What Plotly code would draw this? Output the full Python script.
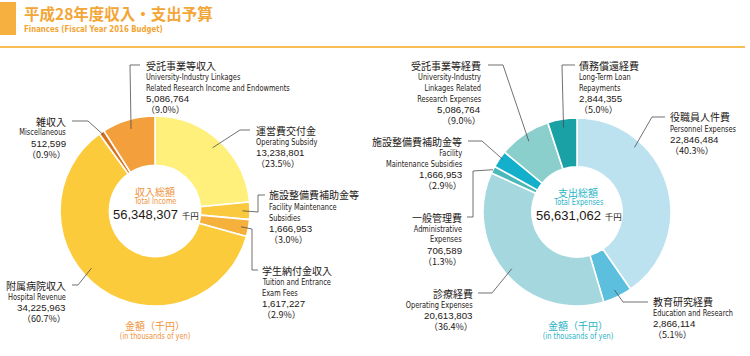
import math
import plotly.graph_objects as go

W, H = 750, 356

# ---------------- data ----------------
inc_jp = ["運営費交付金", "施設整備費補助金等", "学生納付金収入", "附属病院収入", "雑収入", "受託事業等収入"]
inc_en = [["Operating Subsidy"], ["Facility Maintenance", "Subsidies"], ["Tuition and Entrance", "Exam Fees"],
          ["Hospital Revenue"], ["Miscellaneous"], ["University-Industry Linkages", "Related Research Income and Endowments"]]
inc_val = [13238801, 1666953, 1617227, 34225963, 512599, 5086764]
inc_pct = ["23.5", "3.0", "2.9", "60.7", "0.9", "9.0"]
inc_col = ["#FFF07C", "#FBC93D", "#F6B03C", "#FBCB3C", "#D9711C", "#F3A03C"]

exp_jp = ["役職員人件費", "教育研究経費", "診療経費", "一般管理費", "施設整備費補助金等", "受託事業等経費", "債務償還経費"]
exp_en = [["Personnel Expenses"], ["Education and Research"], ["Operating Expenses"], ["Administrative", "Expenses"],
          ["Facility", "Maintenance Subsidies"], ["University-Industry", "Linkages Related", "Research Expenses"],
          ["Long-Term Loan", "Repayments"]]
exp_val = [22846484, 2866114, 20613803, 706589, 1666953, 5086764, 2844355]
exp_pct = ["40.3", "5.1", "36.4", "1.3", "2.9", "9.0", "5.0"]
exp_col = ["#BDE2EF", "#5BBFDD", "#A4D7DE", "#4BB8B9", "#14AFCB", "#8BCFCC", "#1AA1A6"]

title_jp = "平成28年度収入・支出予算"
title_en = "Finances (Fiscal Year 2016 Budget)"

# ---------------- layout helpers ----------------
def px(x):
    return x / W

def py(y):
    return 1 - y / H

JP = "Noto Sans CJK JP"
EN = "DejaVu Sans Condensed, Roboto, sans-serif"   # horizontally condensed further in post_script
NUM = "Liberation Sans, Arial, sans-serif"
TXT = "#231815"
ORANGE = "#F0923A"
TEAL = "#2AB3C6"

# donut geometry (pixels)
L_C, L_R = (155, 211), 95
R_C, R_R = (577, 212), 94

fig = go.Figure()

def add_pie(values, colors, labels, center, R):
    cx, cy = center
    fig.add_trace(go.Pie(
        values=values, labels=labels, sort=False, direction="clockwise", rotation=0,
        hole=0.48, textinfo="none", hoverinfo="label+value+percent",
        marker=dict(colors=colors, line=dict(color="white", width=1.6)),
        domain=dict(x=[px(cx - R), px(cx + R)], y=[py(cy + R), py(cy - R)]),
        showlegend=False,
    ))

add_pie(inc_val, inc_col, inc_jp, L_C, L_R)
add_pie(exp_val, exp_col, exp_jp, R_C, R_R)

annotations = []
shapes = []

def ann(x, y, text, fam, size, color, xa):
    annotations.append(dict(x=px(x), y=py(y), xref="paper", yref="paper", text=text,
                            showarrow=False, xanchor=xa, yanchor="middle", align=xa, borderpad=0,
                            font=dict(family=fam, size=size, color=color)))

def slice_point(values, idx, t, rf, center, R):
    tot = float(sum(values))
    start = sum(values[:idx]) / tot
    frac = start + t * values[idx] / tot
    ang = frac * 2 * math.pi
    cx, cy = center
    return cx + rf * R * math.sin(ang), cy - rf * R * math.cos(ang)

def add_label(jp, en_lines, val, pct, x, y0, align, elbows, anchor):
    y = y0
    ann(x, y, jp, JP, 10, TXT, align)
    y += 11.5
    for e in en_lines:
        ann(x, y, e, EN, 9, TXT, align)
        y += 11
    ann(x, y, f"{val:,}", NUM, 9.7, TXT, align)
    y += 11
    ann(x, y, f"（{pct}%）", JP, 9, TXT, align)
    pts = list(elbows) + [anchor]
    path = "M " + " L ".join(f"{px(a):.5f},{py(b):.5f}" for a, b in pts)
    shapes.append(dict(type="path", path=path, xref="paper", yref="paper",
                       line=dict(color="#4d4d4d", width=0.8)))

# income label layout: (x, y0, align, elbows, t, rf)
inc_lay = [
    (255, 130, "left", [(250, 130), (240, 130)], 0.5, 0.9),
    (268, 195, "left", [(265, 195), (258, 195), (258, 212)], 0.5, 0.92),
    (261, 270, "left", [(258, 270), (252, 270), (252, 229)], 0.5, 0.92),
    (67, 285, "right", [(72, 285), (78, 285)], 0.56, 0.9),
    (67, 121, "right", [(72, 121), (88, 121)], 0.5, 0.97),
    (145, 65, "left", [(140, 65), (130, 65)], 0.5, 0.9),
]
for i, (x, y0, al, el, t, rf) in enumerate(inc_lay):
    add_label(inc_jp[i], inc_en[i], inc_val[i], inc_pct[i], x, y0, al, el,
              slice_point(inc_val, i, t, rf, L_C, L_R))

exp_lay = [
    (669, 117, "left", [(665, 117), (652, 117)], 0.287, 0.92),
    (652, 301, "left", [(648, 302), (623, 302)], 0.5, 0.92),
    (474, 293, "right", [(478, 293), (492, 293)], 0.5, 0.92),
    (463, 217, "right", [(467, 217), (473, 217), (473, 171)], 0.5, 1.0),
    (463, 141, "right", [(468, 141), (482, 141)], 0.6, 0.97),
    (482, 65, "right", [(488, 65), (503, 65)], 0.5, 0.91),
    (578, 65, "left", [(575, 65), (562, 65)], 0.5, 0.91),
]
for i, (x, y0, al, el, t, rf) in enumerate(exp_lay):
    add_label(exp_jp[i], exp_en[i], exp_val[i], exp_pct[i], x, y0, al, el,
              slice_point(exp_val, i, t, rf, R_C, R_R))

def center_text(cx, cy, jp, en, total, color):
    ann(cx, cy - 20, jp, JP, 10, color, "center")
    ann(cx, cy - 10, en, EN, 9, color, "center")
    ann(cx + 1, cy + 3, f"{total:,} <span style='font-family:{JP};font-size:8.5px'>千円</span>",
        NUM, 13, TXT, "center")
    ann(cx, 325, "金額（千円）", JP, 10, color, "center")
    ann(cx, 336, "(in thousands of yen)", EN, 9, color, "center")

center_text(L_C[0], L_C[1], "収入総額", "Total Income", sum(inc_val), ORANGE)
center_text(R_C[0] + 1, R_C[1], "支出総額", "Total Expenses", sum(exp_val), TEAL)

# header
shapes.append(dict(type="rect", xref="paper", yref="paper", x0=px(0), x1=px(16), y0=py(35), y1=py(2),
                   fillcolor="#F5B03F", line=dict(width=0)))
shapes.append(dict(type="line", xref="paper", yref="paper", x0=px(0), x1=px(745), y0=py(47), y1=py(47),
                   line=dict(color="#F6BE55", width=2)))
ann(23, 13.5, f"<b>{title_jp}</b>", JP, 15.5, "#F3A535", "left")
ann(23, 28.5, f"<b>{title_en}</b>", EN, 9.5, "#F3A535", "left")

fig.update_layout(width=W, height=H, margin=dict(l=0, r=0, t=0, b=0),
                  paper_bgcolor="white", plot_bgcolor="white",
                  annotations=annotations, shapes=shapes)

post = """
document.body.style.margin='0';document.body.style.padding='0';
document.querySelectorAll('text.annotation-text').forEach(function(el){
  var st = el.getAttribute('style') || '';
  if (st.indexOf('DejaVu Sans Condensed') >= 0) {
    var a = el.getAttribute('text-anchor');
    var o = a === 'start' ? 'left' : (a === 'end' ? 'right' : 'center');
    el.style.transformBox = 'fill-box';
    el.style.transformOrigin = o + ' center';
    el.style.transform = 'scaleX(0.82)';
  }
});
"""

fig.write_html("out.html", config={"displayModeBar": False}, post_script=post)
